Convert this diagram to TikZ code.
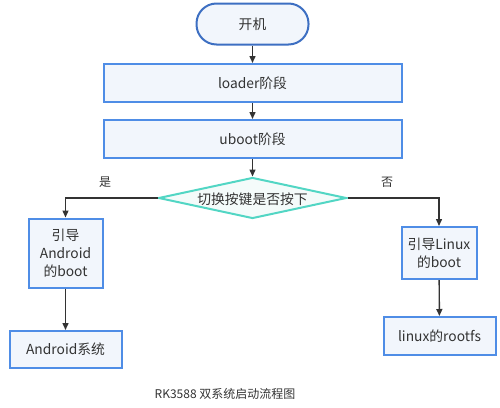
\documentclass[tikz,border=0pt]{standalone}
\usepackage{fontspec}
\setmainfont{Noto Sans CJK SC}
\usetikzlibrary{shapes.geometric,arrows.meta}
\definecolor{txt}{HTML}{333333}
\definecolor{boxline}{HTML}{4F8DE6}
\definecolor{boxfill}{HTML}{F2F6FC}
\definecolor{termline}{HTML}{3D6FC2}
\definecolor{diamline}{HTML}{52D6C4}
\definecolor{diamfill}{HTML}{F4FBFA}
\definecolor{arrowc}{HTML}{333333}
\begin{document}
\begin{tikzpicture}[x=1pt,y=-1pt,
  every node/.style={font=\fontsize{13.8}{18}\selectfont, text=txt, inner sep=0pt},
  procbox/.style={draw=boxline, fill=boxfill, line width=2pt, rectangle, align=center},
  termbox/.style={draw=termline, fill=boxfill, line width=2pt, rectangle, rounded corners=20pt, minimum width=112pt, minimum height=41pt},
  decbox/.style={draw=diamline, fill=diamfill, line width=2pt, diamond, aspect=4.6, minimum width=188pt, minimum height=41pt},
  flow/.style={draw=arrowc, line width=1.4pt, -{Triangle[length=7pt,width=6pt]}},
  lbl/.style={font=\fontsize{12}{13}\selectfont}
]
\useasboundingbox (0,0) rectangle (500,407);
\node[termbox] (start) at (252.5,24) {开机};
\node[procbox, minimum width=298pt, minimum height=38pt] (loader) at (252.5,83) {loader阶段};
\node[procbox, minimum width=298pt, minimum height=38pt] (uboot) at (252.5,139) {uboot阶段};
\node[decbox] (dec) at (252.5,198) {};
\node at (252.5,199) {切换按键是否按下};
\node[procbox, minimum width=74pt, minimum height=69pt] (aboot) at (65.5,253) {引导\\Android\\的boot};
\node[procbox, minimum width=75pt, minimum height=52pt] (lboot) at (439,253) {引导Linux\\的boot};
\node[procbox, minimum width=112pt, minimum height=37pt] (asys) at (65.5,349.5) {Android系统};
\node[procbox, minimum width=112pt, minimum height=38pt] (lroot) at (439.5,336) {linux的rootfs};
\node[lbl] (yes) at (105,182) {是};
\node[lbl] (no) at (387,182) {否};
\node[font=\fontsize{12}{13}\selectfont] (cap) at (225,394) {RK3588 双系统启动流程图};
\draw[flow] (start) -- (loader);
\draw[flow] (loader) -- (uboot);
\draw[flow] (uboot) -- (dec);
\draw[flow] (dec.west) -| (aboot.north);
\draw[flow] (dec.east) -| (lboot.north);
\draw[flow] (aboot) -- (asys);
\draw[flow] (lboot) -- (lroot);
\end{tikzpicture}
\end{document}
